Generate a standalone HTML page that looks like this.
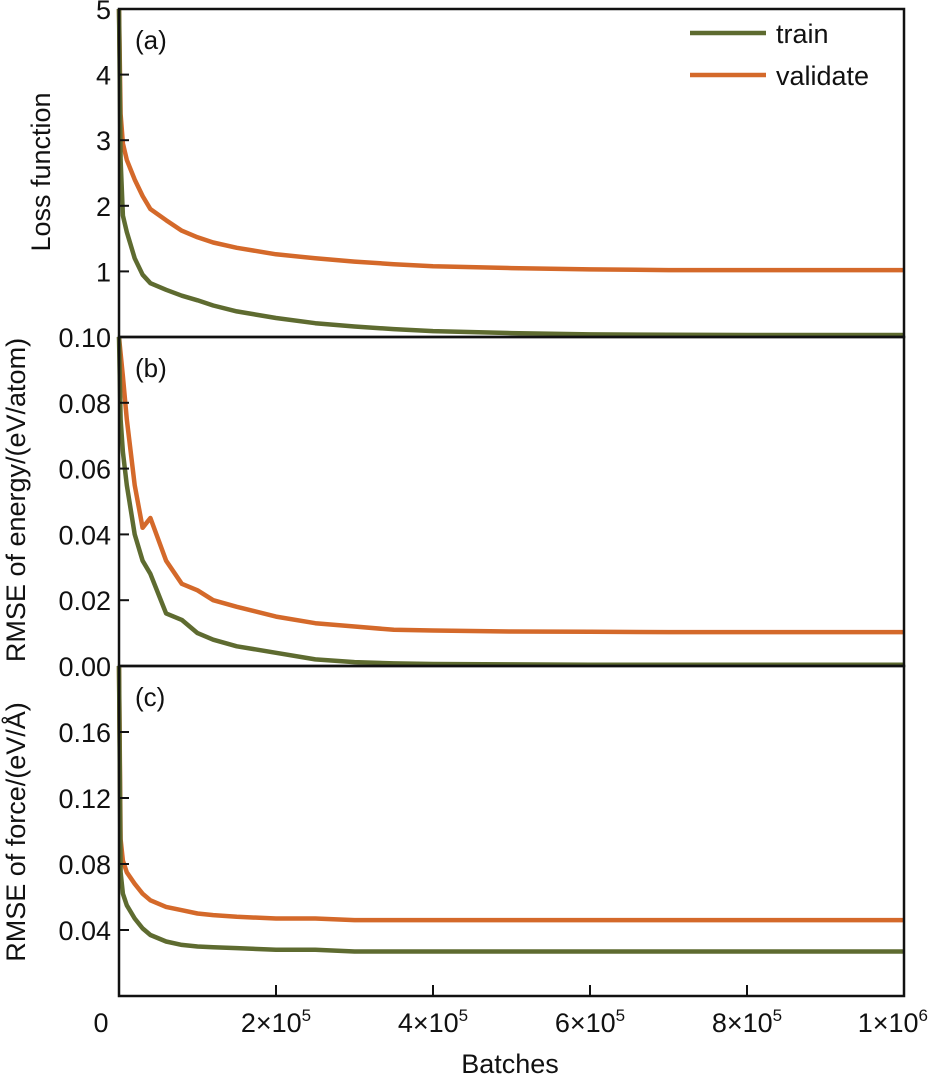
<!DOCTYPE html>
<html><head><meta charset="utf-8"><style>
body{margin:0;background:#fff}
svg{display:block;font-family:"Liberation Sans",sans-serif}
</style></head><body>
<svg id="chart" width="928" height="1080"></svg>
<script>
const xs = [0,0.02,0.05,0.1,0.2,0.3,0.4,0.6,0.8,1,1.2,1.5,2,2.5,3,3.5,4,5,6,7,8,9,10];
const lossTrain = [5,2.7,1.85,1.6,1.2,0.95,0.82,0.72,0.63,0.56,0.48,0.39,0.29,0.21,0.16,0.12,0.09,0.06,0.04,0.035,0.03,0.03,0.03];
const lossVal = [5,3.4,2.95,2.7,2.4,2.15,1.95,1.78,1.62,1.52,1.44,1.36,1.26,1.2,1.15,1.11,1.08,1.05,1.03,1.02,1.02,1.02,1.02];
const eTrain = [0.1,0.075,0.065,0.055,0.04,0.032,0.028,0.016,0.014,0.01,0.008,0.006,0.004,0.002,0.0012,0.0008,0.0006,0.0005,0.0004,0.0004,0.0004,0.0004,0.0004];
const eVal = [0.1,0.095,0.088,0.075,0.055,0.042,0.045,0.032,0.025,0.023,0.02,0.018,0.015,0.013,0.012,0.011,0.0108,0.0105,0.0104,0.0103,0.0103,0.0103,0.0103];
const fTrain = [0.2,0.075,0.062,0.055,0.047,0.041,0.037,0.033,0.031,0.03,0.0295,0.029,0.028,0.028,0.027,0.027,0.027,0.027,0.027,0.027,0.027,0.027,0.027];
const fVal = [0.2,0.095,0.082,0.075,0.068,0.062,0.058,0.054,0.052,0.05,0.049,0.048,0.047,0.047,0.046,0.046,0.046,0.046,0.046,0.046,0.046,0.046,0.046];
const xTicks = [0,2,4,6,8,10];
const aTicks = [1,2,3,4,5];
const bTicks = [0,0.02,0.04,0.06,0.08,0.10];
const cTicks = [0.04,0.08,0.12,0.16];

const svg = document.getElementById('chart');
const NS = 'http://www.w3.org/2000/svg';
const L=119, R=904;
const X = v => L + v/10*(R-L);
function el(tag, attrs, parent){const e=document.createElementNS(NS,tag);for(const k in attrs)e.setAttribute(k,attrs[k]);(parent||svg).appendChild(e);return e;}
const panels = [
 {name:'a', top:9, bot:337, min:0, max:5, tr:lossTrain, va:lossVal, ticks:aTicks, fmt:v=>String(v), lab:'Loss function', ly:172},
 {name:'b', top:337, bot:666, min:0, max:0.1, tr:eTrain, va:eVal, ticks:bTicks, fmt:v=>v.toFixed(2), lab:'RMSE of energy/(eV/atom)', ly:500},
 {name:'c', top:666, bot:996, min:0, max:0.2, tr:fTrain, va:fVal, ticks:cTicks, fmt:v=>v.toFixed(2), lab:'RMSE of force/(eV/\u00C5)', ly:832}
];
panels.forEach(p=>{
  const Y = v => p.bot - (v-p.min)/(p.max-p.min)*(p.bot-p.top);
  [['va','#d4692a','validate'],['tr','#5e6b30','train']].forEach(([k,c,n])=>{
    const d = xs.map((x,i)=>(i?'L':'M')+X(x).toFixed(1)+','+Y(p[k][i]).toFixed(1)).join('');
    const path = el('path',{d:d,fill:'none',stroke:c,'stroke-width':4.5,'stroke-linejoin':'round'});
    
    
  });
  const fr = el('rect',{x:L,y:p.top,width:R-L,height:p.bot-p.top,fill:'none',stroke:'#111','stroke-width':2.5});
  
  
  p.ticks.forEach(t=>{
    const y=Y(t);
    el('line',{x1:L,x2:L+10,y1:y,y2:y,stroke:'#111','stroke-width':2});
    const tx = el('text',{x:L-8,y:y+10,'text-anchor':'end','font-size':27,fill:'#111'});
    tx.textContent = p.fmt(t);
    
    
  });
  const pl = el('text',{x:135,y:p.top+40,'font-size':26,fill:'#111'});
  pl.textContent='('+p.name+')';
  
  
  const yl = el('text',{x:0,y:0,'font-size':27,fill:'#111','text-anchor':'middle',transform:`translate(${p.name==='a'?50:25},${p.ly}) rotate(-90)`});
  yl.textContent=p.lab;
  
  
});
xTicks.forEach(t=>{
  const x=X(t);
  if(t>0){ el('line',{x1:x,x2:x,y1:996,y2:985,stroke:'#111','stroke-width':2}); }
  const tx = el('text',{x:t===0?101:(t===10?928:x),y:1032,'text-anchor':t===10?'end':'middle','font-size':27,fill:'#111'});
  if(t===0){tx.textContent='0';}
  else{
    const m = t===10?1:t;
    tx.textContent = m+'\u00D710';
    const s = el('tspan',{dy:-11,'font-size':17},tx); s.textContent = t===10?'6':'5';
  }
  
  
});
const xt = el('text',{x:510,y:1073,'text-anchor':'middle','font-size':27,fill:'#111'});
xt.textContent='Batches';


[['train','#5e6b30',33],['validate','#d4692a',75]].forEach(([n,c,y])=>{
  const g = el('g',{});
  
  
  el('line',{x1:690,x2:766,y1:y,y2:y,stroke:c,'stroke-width':4.5},g);
  const t = el('text',{x:776,y:y+10,'font-size':27,fill:'#111'},g); t.textContent=n;
});
</script>
</body></html>
